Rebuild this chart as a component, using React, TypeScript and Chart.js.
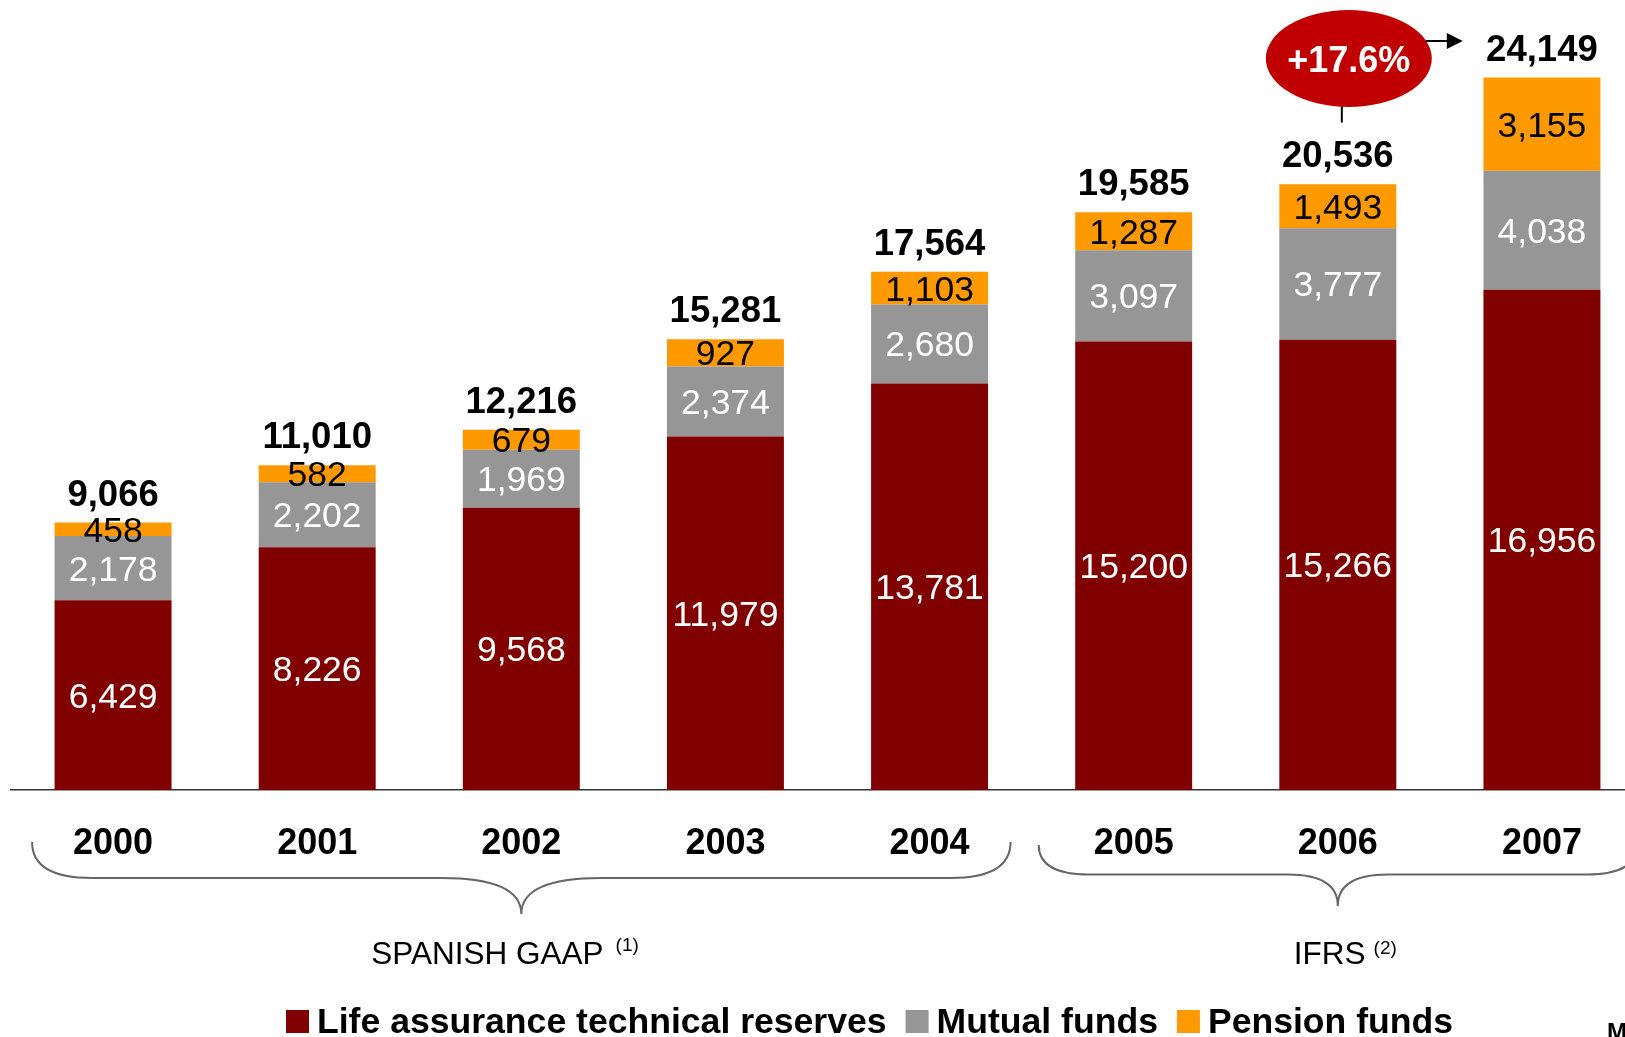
import React, { useEffect, useRef } from "react";
import { Chart, registerables } from "chart.js";

Chart.register(...registerables);

// ---- data ----
const years = ["2000", "2001", "2002", "2003", "2004", "2005", "2006", "2007"];
const lifeReserves = [6429, 8226, 9568, 11979, 13781, 15200, 15266, 16956];
const mutualFunds = [2178, 2202, 1969, 2374, 2680, 3097, 3777, 4038];
const pensionFunds = [458, 582, 679, 927, 1103, 1287, 1493, 3155];
const totals = [9066, 11010, 12216, 15281, 17564, 19585, 20536, 24149];
const seriesNames = ["Life assurance technical reserves", "Mutual funds", "Pension funds"];
const growthLabel = "+17.6%";
const groupNames = ["SPANISH GAAP", "IFRS"];
const groupNotes = ["(1)", "(2)"];
const groupFirst = [0, 5];
const groupLast = [4, 7];
const unitLabel = "M";

// ---- styles ----
const FONT = "'Liberation Sans', Arial, Helvetica, sans-serif";
const COLORS = ["#800000", "#969696", "#FF9900"];
const braceStyle = [
  { pad: 81, tipY: 842, barY: 878, cuspY: 914, r: 60, r2: 80, textShift: -150 },
  { pad: 95, tipY: 845, barY: 874.5, cuspY: 906, r: 50, r2: 50, textShift: -44 },
];

const fmt = (v: number) => v.toLocaleString("en-US");

const overlay = {
  id: "overlay",
  afterDraw(chart: any) {
    const ctx: CanvasRenderingContext2D = chart.ctx;
    const xs = chart.scales.x;
    const ys = chart.scales.y;
    ctx.save();

    // segment labels
    ctx.textAlign = "center";
    ctx.textBaseline = "alphabetic";
    ctx.font = `35.5px ${FONT}`;
    chart.data.datasets.forEach((ds: any, di: number) => {
      const meta = chart.getDatasetMeta(di);
      meta.data.forEach((el: any, i: number) => {
        const p = el.getProps(["x", "y", "base"], true);
        const cy = (p.y + p.base) / 2;
        ctx.fillStyle = di === 2 ? "#000" : "#fff";
        ctx.fillText(fmt(ds.data[i]), p.x, cy + 12.5);
      });
    });

    // totals
    ctx.font = `bold 36.5px ${FONT}`;
    ctx.fillStyle = "#000";
    totals.forEach((t, i) => {
      const x = xs.getPixelForValue(i);
      const y = ys.getPixelForValue(t);
      ctx.fillText(fmt(t), x, y - 30 + 13);
    });

    // growth bubble
    const bx = xs.getPixelForValue(6) + 11;
    const by = 58.5;
    ctx.fillStyle = "#C00000";
    ctx.beginPath();
    ctx.ellipse(bx, by, 83, 48.5, 0, 0, Math.PI * 2);
    ctx.fill();
    ctx.fillStyle = "#fff";
    ctx.font = `bold 36px ${FONT}`;
    ctx.fillText(growthLabel, bx, by + 13);
    ctx.strokeStyle = "#000";
    ctx.lineWidth = 2;
    ctx.beginPath();
    ctx.moveTo(bx - 7, by + 48);
    ctx.lineTo(bx - 7, by + 64);
    ctx.stroke();
    ctx.beginPath();
    ctx.moveTo(bx + 77, 41);
    ctx.lineTo(bx + 100, 41);
    ctx.stroke();
    ctx.fillStyle = "#000";
    ctx.beginPath();
    ctx.moveTo(bx + 98, 33);
    ctx.lineTo(bx + 114, 41);
    ctx.lineTo(bx + 98, 49);
    ctx.closePath();
    ctx.fill();

    // braces and group labels
    groupNames.forEach((name, g) => {
      const s = braceStyle[g];
      const xL = xs.getPixelForValue(groupFirst[g]) - s.pad;
      const xR = xs.getPixelForValue(groupLast[g]) + s.pad;
      const xC = (xL + xR) / 2;
      ctx.strokeStyle = "#666";
      ctx.lineWidth = 2;
      ctx.beginPath();
      ctx.moveTo(xL, s.tipY);
      ctx.quadraticCurveTo(xL, s.barY, xL + s.r, s.barY);
      ctx.lineTo(xC - s.r2, s.barY);
      ctx.quadraticCurveTo(xC, s.barY, xC, s.cuspY);
      ctx.quadraticCurveTo(xC, s.barY, xC + s.r2, s.barY);
      ctx.lineTo(xR - s.r, s.barY);
      ctx.quadraticCurveTo(xR, s.barY, xR, s.tipY);
      ctx.stroke();

      ctx.fillStyle = "#000";
      ctx.textAlign = "left";
      ctx.font = `31.5px ${FONT}`;
      const tx = xC + s.textShift;
      ctx.fillText(name, tx, 964);
      const w = ctx.measureText(name).width;
      ctx.font = `19px ${FONT}`;
      ctx.fillText(groupNotes[g], tx + w + (g === 0 ? 12 : 8), g === 0 ? 951 : 954);
    });

    // legend
    let lx = 286;
    ctx.font = `bold 35.6px ${FONT}`;
    ctx.textAlign = "left";
    chart.data.datasets.forEach((ds: any) => {
      ctx.fillStyle = ds.backgroundColor;
      ctx.fillRect(lx, 1010, 23, 23);
      ctx.fillStyle = "#000";
      ctx.fillText(ds.label, lx + 31, 1033);
      lx += 31 + ctx.measureText(ds.label).width + 19;
    });

    // unit label (cut at the edge)
    ctx.font = `bold 24px ${FONT}`;
    ctx.fillText(unitLabel, 1607, 1040);

    ctx.restore();
  },
};

export default function App() {
  const ref = useRef<HTMLCanvasElement | null>(null);
  useEffect(() => {
    if (!ref.current) return;
    const chart = new Chart(ref.current, {
      type: "bar",
      data: {
        labels: years,
        datasets: [lifeReserves, mutualFunds, pensionFunds].map((d, i) => ({
          label: seriesNames[i],
          data: d,
          backgroundColor: COLORS[i],
          borderWidth: 0,
          categoryPercentage: 0.573,
          barPercentage: 1,
        })),
      },
      options: {
        animation: false,
        responsive: false,
        devicePixelRatio: 1,
        layout: { padding: { left: 11, right: 16, top: 23, bottom: 146.8 } },
        plugins: { legend: { display: false }, tooltip: { enabled: false } },
        scales: {
          x: {
            stacked: true,
            grid: { display: false },
            border: { display: true, color: "#333", width: 1.5 },
            ticks: {
              color: "#000",
              font: { family: FONT, size: 36, weight: "bold" },
              padding: 24.5,
            },
          },
          y: { stacked: true, display: false, min: 0, max: 26000 },
        },
      },
      plugins: [overlay],
    } as any);
    return () => chart.destroy();
  }, []);

  return (
    <div
      style={{
        position: "absolute",
        left: 0,
        top: 0,
        width: 1625,
        height: 1037,
        overflow: "hidden",
        background: "#fff",
      }}
    >
      <canvas ref={ref} width={1660} height={1037} style={{ width: 1660, height: 1037, display: "block" }} />
    </div>
  );
}
